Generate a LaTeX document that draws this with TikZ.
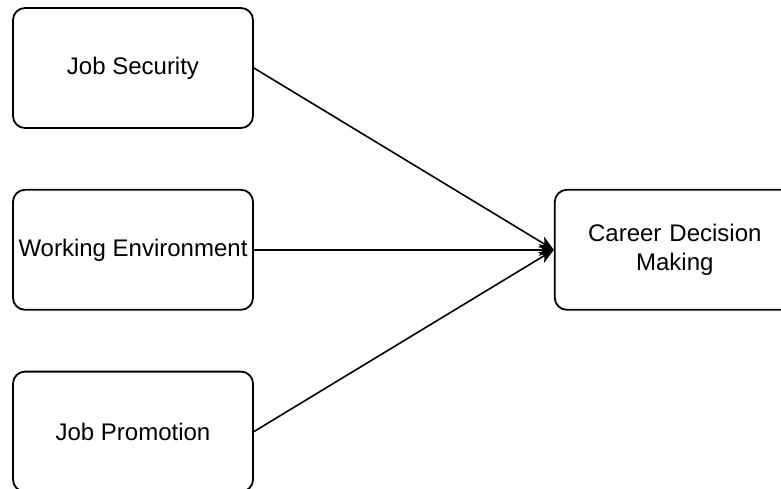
\documentclass[tikz,border=0pt]{standalone}
\usepackage{fontspec}
\setmainfont{Liberation Sans}
\usepackage{tikz}
\usetikzlibrary{positioning}
\usetikzlibrary{arrows.meta}

\begin{document}
\begin{tikzpicture}[x=1pt,y=-1pt,font=\fontsize{24}{29}\selectfont,
      factor style/.style={rectangle,draw=black,line width=1.8pt,rounded
        corners=12pt,minimum width=240pt,minimum height=120pt,inner sep=0pt,
        align=center},
      outcome style/.style={factor style,text width=220pt}
      ]
      \useasboundingbox (0,0) rectangle (781,488);

      \node[factor style] (jobsec) at (133,68) {Job Security};
      \node[factor style, below=60pt of jobsec] (workenv) {Working Environment};
      \node[factor style, below=60pt of workenv] (jobprom) {Job Promotion};

      \node[outcome style, right=300pt of workenv] (career) {Career Decision\\Making};

      \draw[line width=1.6pt,-{Stealth[length=15pt,width=12pt,inset=4pt]}] (jobsec.east) -- (career.west);
      \draw[line width=1.6pt,-{Stealth[length=15pt,width=12pt,inset=4pt]}] (workenv.east) -- (career.west);
      \draw[line width=1.6pt,-{Stealth[length=15pt,width=12pt,inset=4pt]}] (jobprom.east) -- (career.west);

    \end{tikzpicture}
\end{document}
